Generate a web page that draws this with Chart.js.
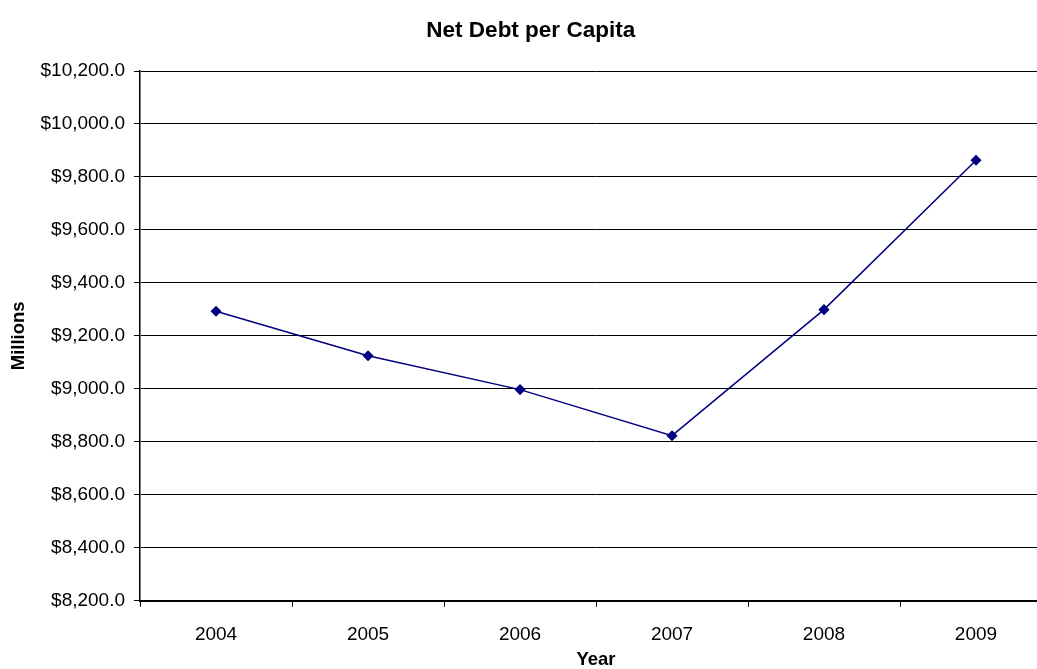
<!DOCTYPE html>
<html>
<head>
<meta charset="utf-8">
<script src="https://cdn.jsdelivr.net/npm/chart.js@4.4.1/dist/chart.umd.min.js"></script>
<style>
  html, body { margin: 0; padding: 0; background: #fff; overflow: hidden; }
  #caja { width: 1060px; height: 669px; position: relative; }
</style>
</head>
<body>
<div id="caja"><canvas id="myChart"></canvas></div>
<script>
// datos
const years = ['2004', '2005', '2006', '2007', '2008', '2009']
const deudaNeta = [9293, 9125, 8997, 8823, 9299, 9863]

const titulo = 'Net Debt per Capita'
const tituloY = 'Millions'
const tituloX = 'Year'

const fuente = 'Arial, "Liberation Sans", sans-serif'

function dinero(v){
  return '$' + Number(v).toLocaleString('en-US', {minimumFractionDigits: 1, maximumFractionDigits: 1})
}

const ctx = document.getElementById('myChart')

new Chart(ctx, {
  type: 'line',
  data: {
    labels: years,
    datasets: [{
      label: titulo,
      data: deudaNeta,
      borderColor: '#000080',
      backgroundColor: '#000080',
      borderWidth: 1.5,
      pointStyle: 'rectRot',
      pointRadius: 4.5,
      pointHoverRadius: 4.5,
      tension: 0,
      fill: false
    }]
  },
  options: {
    responsive: true,
    maintainAspectRatio: false,
    animation: false,
    layout: { padding: { left: 9.5, right: 8, top: 0, bottom: 0 } },
    plugins: {
      legend: { display: false },
      tooltip: { enabled: false },
      title: {
        display: true,
        text: titulo,
        color: '#000',
        font: { family: fuente, size: 22.5, weight: 'bold', lineHeight: 1.2 },
        padding: { top: 17.5, bottom: 26.5 }
      }
    },
    scales: {
      x: {
        offset: true,
        grid: {
          offset: true,
          drawOnChartArea: false,
          drawTicks: true,
          tickLength: 6,
          color: '#000'
        },
        border: { display: true, color: '#000', width: 2 },
        ticks: {
          color: '#000',
          padding: 17,
          maxRotation: 0,
          font: { family: fuente, size: 19, lineHeight: 1.2 }
        },
        title: {
          display: true,
          text: tituloX,
          color: '#000',
          font: { family: fuente, size: 18.5, weight: 'bold', lineHeight: 1 },
          padding: { top: -13, bottom: 0 }
        }
      },
      y: {
        min: 8200,
        max: 10200,
        grid: {
          color: '#000',
          lineWidth: 1,
          drawTicks: true,
          tickLength: 6
        },
        border: { display: true, color: '#000', width: 1.5 },
        ticks: {
          stepSize: 200,
          color: '#000',
          padding: 9,
          font: { family: fuente, size: 19, lineHeight: 1.2 },
          callback: (v) => dinero(v)
        },
        title: {
          display: true,
          text: tituloY,
          color: '#000',
          font: { family: fuente, size: 18.5, weight: 'bold', lineHeight: 1 },
          padding: { top: 0, bottom: 3.5 }
        }
      }
    }
  }
})
</script>
</body>
</html>
